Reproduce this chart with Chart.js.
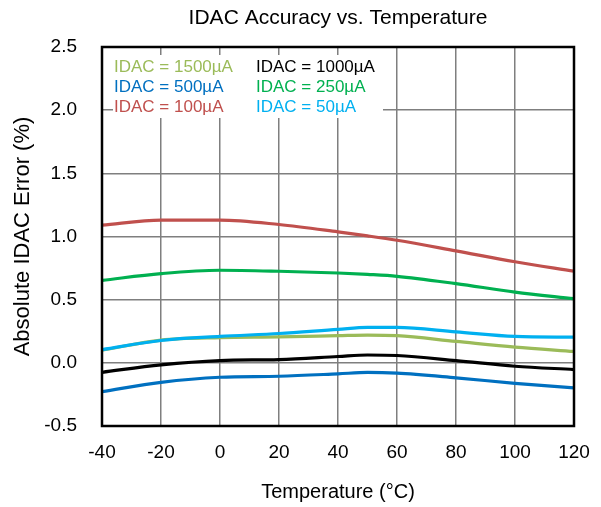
<!DOCTYPE html>
<html>
<head>
<meta charset="utf-8">
<script src="https://cdn.jsdelivr.net/npm/chart.js@4/dist/chart.umd.min.js"></script>
<style>
html,body{margin:0;padding:0;background:#fff;}
#wrap{width:601px;height:507px;position:relative;}
</style>
</head>
<body>
<div id="wrap"><canvas id="c"></canvas></div>
<script>
const chartTitle = 'IDAC Accuracy vs. Temperature';
const xTitle = 'Temperature (°C)';
const yTitle = 'Absolute IDAC Error (%)';
const temps = [-40, -20, 0, 20, 40, 50, 60, 80, 100, 120];
const seriesLabels = ['IDAC = 1500µA', 'IDAC = 1000µA', 'IDAC = 500µA', 'IDAC = 250µA', 'IDAC = 100µA', 'IDAC = 50µA'];
const i1500 = [0.10, 0.18, 0.20, 0.205, 0.215, 0.22, 0.215, 0.17, 0.125, 0.09];
const i1000 = [-0.075, -0.016, 0.018, 0.026, 0.05, 0.062, 0.058, 0.018, -0.027, -0.053];
const i500 = [-0.228, -0.154, -0.114, -0.106, -0.087, -0.076, -0.082, -0.119, -0.162, -0.198];
const i250 = [0.653, 0.706, 0.733, 0.725, 0.711, 0.70, 0.685, 0.627, 0.56, 0.508];
const i100 = [1.09, 1.13, 1.13, 1.095, 1.037, 1.005, 0.97, 0.886, 0.80, 0.725];
const i50 = [0.105, 0.177, 0.209, 0.232, 0.265, 0.28, 0.28, 0.245, 0.209, 0.203];
const seriesValues = [i1500, i1000, i500, i250, i100, i50];
const seriesColors = ['#9BBB59', '#000000', '#0070C0', '#00B050', '#C0504D', '#00B0F0'];
const drawOrder = [5, 4, 3, 2, 1, 0];

const FONT = '"Liberation Sans", Arial, sans-serif';

const datasets = seriesLabels.map((lab, i) => ({
  label: lab,
  data: temps.map((t, j) => ({x: t, y: seriesValues[i][j]})),
  borderColor: seriesColors[i],
  backgroundColor: seriesColors[i],
  borderWidth: 3.2,
  pointRadius: 0,
  fill: false,
  cubicInterpolationMode: 'monotone',
  order: drawOrder[i]
}));

const decor = {
  id: 'decor',
  beforeDraw(chart) {
    const ctx = chart.ctx;
    ctx.save();
    ctx.fillStyle = '#fff';
    ctx.fillRect(0, 0, chart.width, chart.height);
    ctx.restore();
  },
  beforeDatasetsDraw(chart) {
    const ctx = chart.ctx;
    ctx.save();
    ctx.fillStyle = '#fff';
    ctx.fillRect(113, 55, 270, 63);
    ctx.font = '17px ' + FONT;
    ctx.textBaseline = 'alphabetic';
    ctx.textAlign = 'left';
    const cols = [114, 256];
    const rows = [72, 92, 112];
    chart.data.datasets.forEach((ds, i) => {
      ctx.fillStyle = ds.borderColor;
      ctx.fillText(ds.label, cols[i % 2], rows[Math.floor(i / 2)]);
    });
    ctx.restore();
  },
  afterDatasetsDraw(chart) {
    const ctx = chart.ctx;
    const a = chart.chartArea;
    ctx.save();
    ctx.strokeStyle = '#000';
    ctx.lineWidth = 2.5;
    ctx.strokeRect(a.left, a.top, a.right - a.left, a.bottom - a.top);
    ctx.fillStyle = '#000';
    ctx.font = '21px ' + FONT;
    ctx.textAlign = 'center';
    ctx.textBaseline = 'alphabetic';
    ctx.fillText(chartTitle, (a.left + a.right) / 2, 24);
    ctx.restore();
  }
};

new Chart(document.getElementById('c'), {
  type: 'line',
  data: { datasets },
  options: {
    responsive: true,
    maintainAspectRatio: false,
    animation: false,
    layout: { padding: { top: 47, right: 27, left: 0, bottom: 0 } },
    plugins: { legend: { display: false }, tooltip: { enabled: false }, title: { display: false } },
    scales: {
      x: {
        type: 'linear',
        min: -40, max: 120,
        ticks: { stepSize: 20, color: '#000', font: { family: FONT, size: 19 }, padding: 15, maxRotation: 0 },
        grid: { color: '#7f7f7f', lineWidth: 1.5, drawTicks: false },
        border: { display: false },
        title: { display: true, text: xTitle, color: '#000', font: { family: FONT, size: 20 }, padding: { top: 0, bottom: 3 } },
        afterFit(scale) { scale.height = 81; scale.paddingLeft = 0; scale.paddingRight = 0; }
      },
      y: {
        min: -0.5, max: 2.5,
        ticks: { stepSize: 0.5, color: '#000', font: { family: FONT, size: 19 }, padding: 25,
                 callback: v => v.toFixed(1) },
        grid: { color: '#7f7f7f', lineWidth: 1.5, drawTicks: false },
        border: { display: false },
        title: { display: true, text: yTitle, color: '#000', font: { family: FONT, size: 22 }, padding: { top: 10, bottom: 0 } },
        afterFit(scale) { scale.width = 102; }
      }
    }
  },
  plugins: [decor]
});
</script>
</body>
</html>
